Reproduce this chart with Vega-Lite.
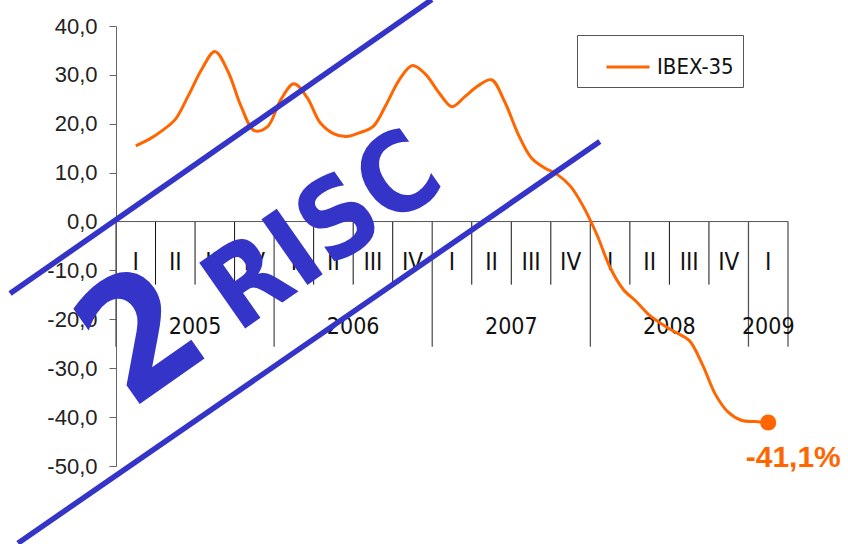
{
  "$schema": "https://vega.github.io/schema/vega-lite/v6.json",
  "width": 672,
  "height": 440,
  "autosize": {"type": "none"},
  "padding": {"left": 116, "top": 26, "right": 60, "bottom": 78},
  "background": "white",
  "config": {
    "view": {"stroke": null},
    "axisY": {
      "values": [-50, -40, -30, -20, -10, 0, 10, 20, 30, 40],
      "labelExpr": "replace(replace(format(datum.value, '.1f'), '.', ','), '−', '-')",
      "grid": false,
      "domainColor": "#666666",
      "tickColor": "#666666",
      "tickSize": 7,
      "labelPadding": 12,
      "labelFont": "Liberation Sans",
      "labelFontSize": 22,
      "labelColor": "#222222",
      "labelOverlap": false,
      "labelBound": false,
      "labelFlush": false,
      "title": null
    }
  },
  "datasets": {
    "ibex": [
      {"t": 0.5, "v": 15.5}, {"t": 0.8333, "v": 16.8}, {"t": 1.1667, "v": 18.6}, {"t": 1.5, "v": 20.9},
      {"t": 1.8333, "v": 25.8}, {"t": 2.1667, "v": 31.1}, {"t": 2.5, "v": 34.8}, {"t": 2.8333, "v": 30.7},
      {"t": 3.1667, "v": 23.5}, {"t": 3.5, "v": 18.6}, {"t": 3.8333, "v": 19.4}, {"t": 4.1667, "v": 24.9},
      {"t": 4.5, "v": 28.2}, {"t": 4.8333, "v": 25.4}, {"t": 5.1667, "v": 20.2}, {"t": 5.5, "v": 18.0},
      {"t": 5.8333, "v": 17.4}, {"t": 6.1667, "v": 18.2}, {"t": 6.5, "v": 19.4}, {"t": 6.8333, "v": 23.9},
      {"t": 7.1667, "v": 29.0}, {"t": 7.5, "v": 31.9}, {"t": 7.8333, "v": 30.1}, {"t": 8.1667, "v": 26.4},
      {"t": 8.5, "v": 23.5}, {"t": 8.8333, "v": 25.6}, {"t": 9.1667, "v": 27.8}, {"t": 9.5, "v": 29.0},
      {"t": 9.8333, "v": 24.5}, {"t": 10.1667, "v": 18.0}, {"t": 10.5, "v": 13.1}, {"t": 10.8333, "v": 11.0},
      {"t": 11.1667, "v": 9.6}, {"t": 11.5, "v": 7.2}, {"t": 11.8333, "v": 2.9}, {"t": 12.1667, "v": -2.7},
      {"t": 12.5, "v": -9.4}, {"t": 12.8333, "v": -13.9}, {"t": 13.1667, "v": -16.4}, {"t": 13.5, "v": -19.2},
      {"t": 13.8333, "v": -21.1}, {"t": 14.1667, "v": -22.7}, {"t": 14.5, "v": -24.3}, {"t": 14.8333, "v": -29.2},
      {"t": 15.1667, "v": -35.4}, {"t": 15.5, "v": -39.1}, {"t": 15.8333, "v": -40.7}, {"t": 16.1667, "v": -40.9},
      {"t": 16.5, "v": -41.1}
    ],
    "final": [{"t": 16.5, "v": -41.1, "etiqueta": "-41,1%"}],
    "sepCortos": [
      {"q": 1}, {"q": 2}, {"q": 3}, {"q": 5}, {"q": 6}, {"q": 7},
      {"q": 9}, {"q": 10}, {"q": 11}, {"q": 13}, {"q": 14}, {"q": 15}
    ],
    "sepLargos": [{"q": 0}, {"q": 4}, {"q": 8}, {"q": 12}, {"q": 16}, {"q": 17}],
    "trimestres": [
      {"q": 0.5, "txt": "I"}, {"q": 1.5, "txt": "II"}, {"q": 2.5, "txt": "III"}, {"q": 3.5, "txt": "IV"},
      {"q": 4.5, "txt": "I"}, {"q": 5.5, "txt": "II"}, {"q": 6.5, "txt": "III"}, {"q": 7.5, "txt": "IV"},
      {"q": 8.5, "txt": "I"}, {"q": 9.5, "txt": "II"}, {"q": 10.5, "txt": "III"}, {"q": 11.5, "txt": "IV"},
      {"q": 12.5, "txt": "I"}, {"q": 13.5, "txt": "II"}, {"q": 14.5, "txt": "III"}, {"q": 15.5, "txt": "IV"},
      {"q": 16.5, "txt": "I"}
    ],
    "anios": [
      {"q": 2, "txt": "2005"}, {"q": 6, "txt": "2006"}, {"q": 10, "txt": "2007"},
      {"q": 14, "txt": "2008"}, {"q": 16.5, "txt": "2009"}
    ],
    "marcaLineas": [
      {"x1": -2.68, "y1": -14.72, "x2": 7.99, "y2": 45.4},
      {"x1": -2.48, "y1": -65.78, "x2": 12.24, "y2": 16.36}
    ],
    "marcaNumero": [{"x": 1.43, "y": -32.6, "txt": "2"}],
    "marcaPalabra": [{"x": 5.74, "y": -7.9, "txt": "RISC"}]
  },
  "layer": [
    {
      "data": {"name": "sepCortos"},
      "mark": {"type": "rule", "color": "#111111", "strokeWidth": 1},
      "encoding": {
        "x": {"field": "q", "type": "quantitative", "axis": null, "scale": {"domain": [0, 17], "nice": false, "zero": false}},
        "y": {"datum": 0, "type": "quantitative", "title": null, "scale": {"domain": [-50, 40], "nice": false}},
        "y2": {"datum": -12.9}
      }
    },
    {
      "data": {"name": "sepLargos"},
      "mark": {"type": "rule", "color": "#555555", "strokeWidth": 1.3},
      "encoding": {
        "x": {"field": "q", "type": "quantitative", "axis": null},
        "y": {"datum": 0, "type": "quantitative", "title": null},
        "y2": {"datum": -25.6}
      }
    },
    {
      "data": {"name": "final"},
      "mark": {"type": "rule", "color": "#555555", "strokeWidth": 1},
      "encoding": {
        "x": {"datum": 0, "type": "quantitative", "axis": null},
        "x2": {"datum": 17},
        "y": {"datum": 0, "type": "quantitative", "title": null}
      }
    },
    {
      "data": {"name": "trimestres"},
      "mark": {"type": "text", "font": "DejaVu Sans Condensed, Liberation Sans, sans-serif", "fontSize": 24, "color": "#111111", "align": "center", "baseline": "middle"},
      "encoding": {
        "x": {"field": "q", "type": "quantitative", "axis": null},
        "y": {"datum": -8.5, "type": "quantitative", "title": null},
        "text": {"field": "txt"}
      }
    },
    {
      "data": {"name": "anios"},
      "mark": {"type": "text", "font": "DejaVu Sans Condensed, Liberation Sans, sans-serif", "fontSize": 23, "color": "#111111", "align": "center", "baseline": "middle"},
      "encoding": {
        "x": {"field": "q", "type": "quantitative", "axis": null},
        "y": {"datum": -21.5, "type": "quantitative", "title": null},
        "text": {"field": "txt"}
      }
    },
    {
      "data": {"name": "ibex"},
      "mark": {"type": "line", "strokeWidth": 3, "interpolate": "catmull-rom"},
      "encoding": {
        "x": {"field": "t", "type": "quantitative", "axis": null},
        "y": {"field": "v", "type": "quantitative", "title": null},
        "color": {
          "datum": "IBEX-35",
          "scale": {"range": ["#ff6600"]},
          "legend": {
            "title": null,
            "orient": "none",
            "legendX": 461,
            "legendY": 9,
            "strokeColor": "#555555",
            "fillColor": "white",
            "padding": 9,
            "symbolType": "stroke",
            "symbolSize": 1849,
            "symbolStrokeWidth": 3,
            "symbolOffset": 19,
            "labelOffset": 6,
            "labelFont": "DejaVu Sans Condensed, Liberation Sans, sans-serif",
            "labelFontSize": 22,
            "labelColor": "#111111"
          }
        }
      }
    },
    {
      "data": {"name": "final"},
      "mark": {"type": "point", "filled": true, "size": 260, "color": "#ff6600", "opacity": 1},
      "encoding": {
        "x": {"field": "t", "type": "quantitative", "axis": null},
        "y": {"field": "v", "type": "quantitative", "title": null}
      }
    },
    {
      "data": {"name": "final"},
      "mark": {"type": "text", "font": "Liberation Sans", "fontWeight": "bold", "fontSize": 30, "color": "#ff6600", "align": "center", "baseline": "alphabetic", "dx": 25, "dy": 45},
      "encoding": {
        "x": {"field": "t", "type": "quantitative", "axis": null},
        "y": {"field": "v", "type": "quantitative", "title": null},
        "text": {"field": "etiqueta"}
      }
    },
    {
      "data": {"name": "marcaLineas"},
      "mark": {"type": "rule", "color": "#3434c8", "strokeWidth": 5.5},
      "encoding": {
        "x": {"field": "x1", "type": "quantitative", "axis": null},
        "y": {"field": "y1", "type": "quantitative", "title": null},
        "x2": {"field": "x2"},
        "y2": {"field": "y2"}
      }
    },
    {
      "data": {"name": "marcaNumero"},
      "mark": {"type": "text", "font": "DejaVu Sans Condensed, Liberation Sans, sans-serif", "fontWeight": "bold", "fontSize": 166, "color": "#3434c8", "align": "center", "baseline": "alphabetic", "angle": -35},
      "encoding": {
        "x": {"field": "x", "type": "quantitative", "axis": null},
        "y": {"field": "y", "type": "quantitative", "title": null},
        "text": {"field": "txt"}
      }
    },
    {
      "data": {"name": "marcaPalabra"},
      "mark": {"type": "text", "font": "DejaVu Sans Condensed, Liberation Sans, sans-serif", "fontWeight": "bold", "fontSize": 110, "color": "#3434c8", "align": "center", "baseline": "alphabetic", "angle": -35},
      "encoding": {
        "x": {"field": "x", "type": "quantitative", "axis": null},
        "y": {"field": "y", "type": "quantitative", "title": null},
        "text": {"field": "txt"}
      }
    }
  ]
}
